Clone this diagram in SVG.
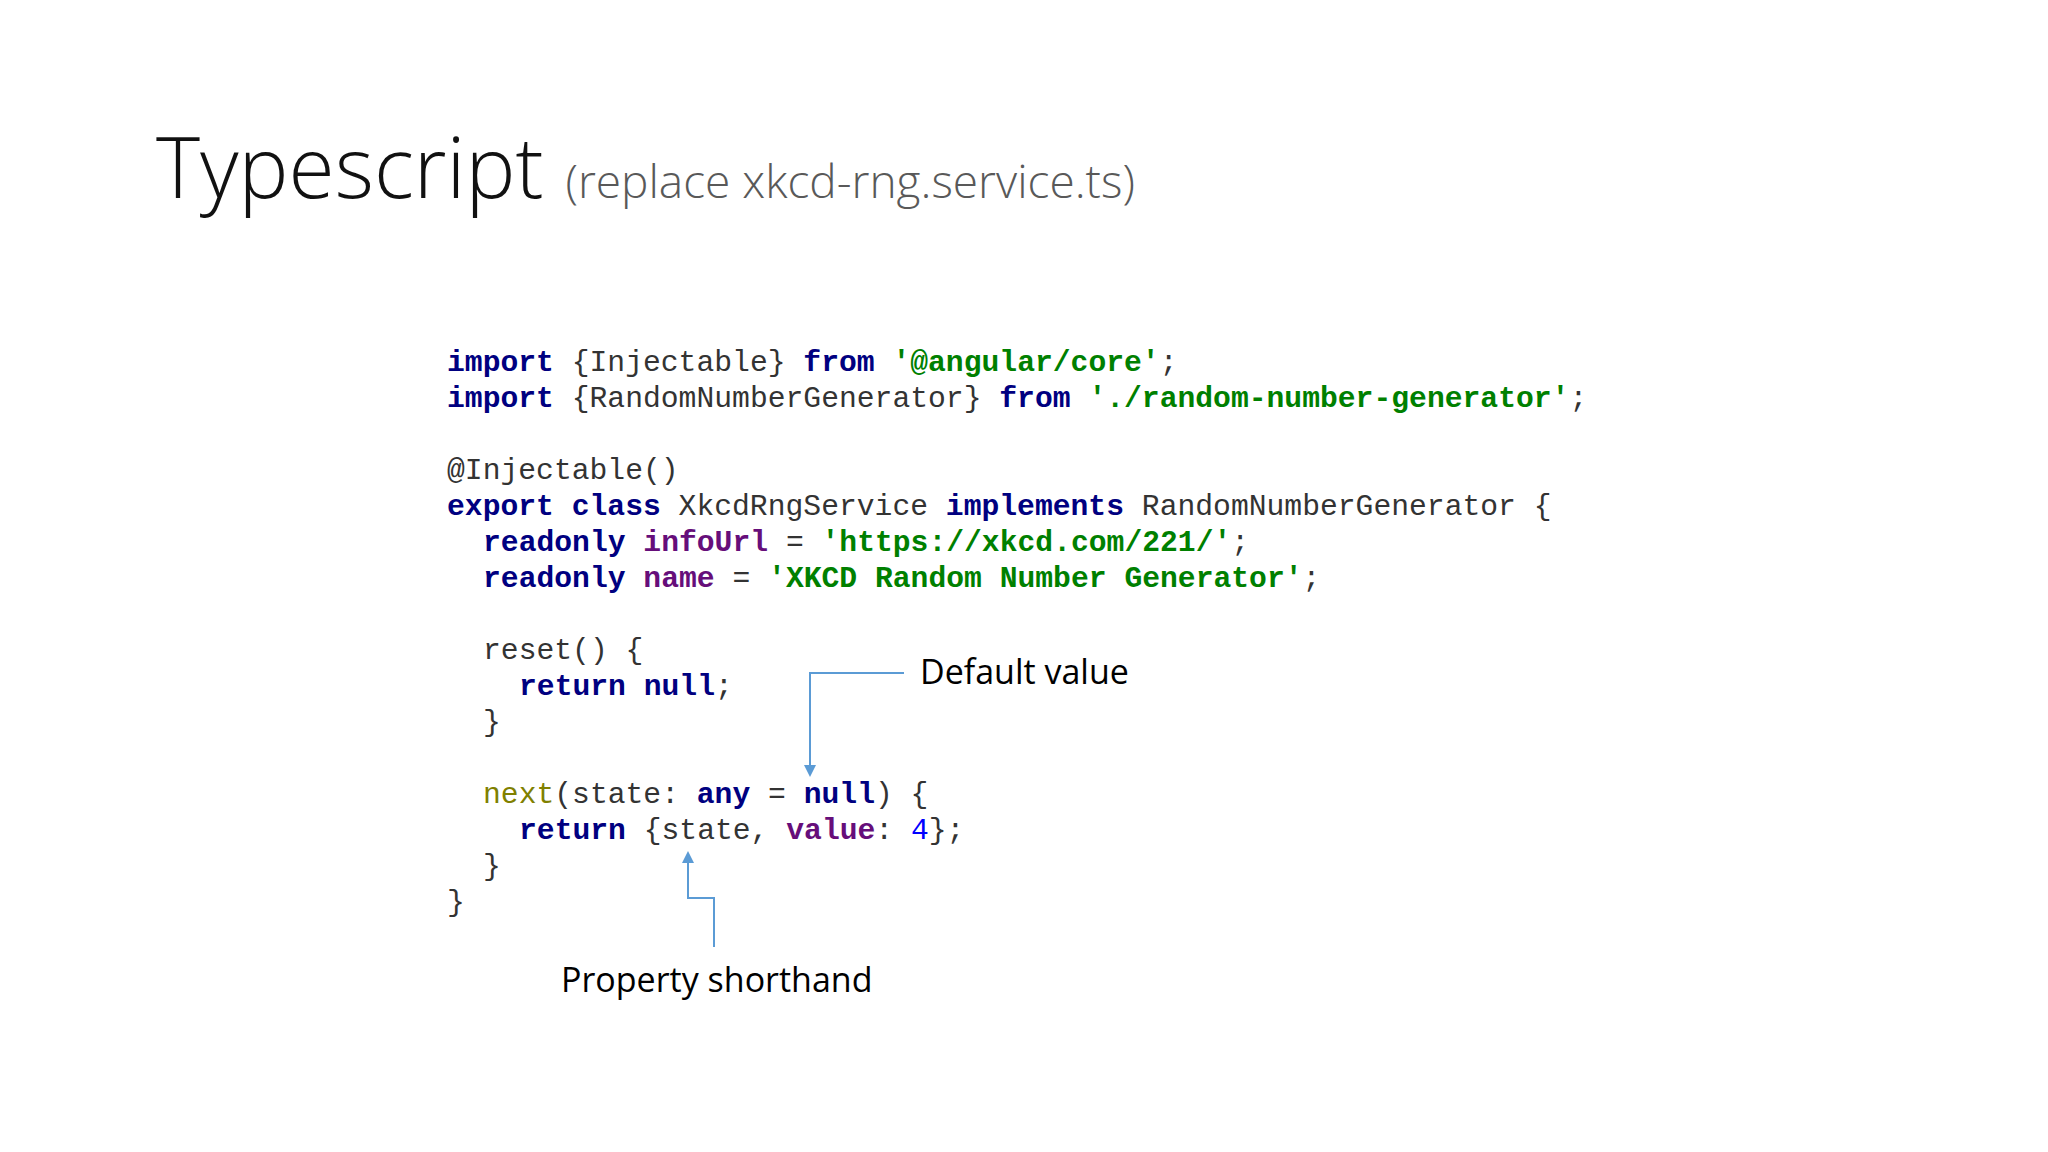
<svg xmlns="http://www.w3.org/2000/svg" width="2048" height="1152" viewBox="0 0 2048 1152">
<style>
.c{font-family:"Liberation Mono",monospace;font-size:29.7px;fill:#333;white-space:pre}
.k{fill:#000080;font-weight:bold}
.s{fill:#008000;font-weight:bold}
.p{fill:#660E7A;font-weight:bold}
.n{fill:#0000FF}
.f{fill:#808000}
.a{font-family:"Open Sans","Liberation Sans",sans-serif;font-size:34px;fill:#000}
.l{fill:none;stroke:#5B9BD5;stroke-width:2}
.h{fill:#5B9BD5}
</style>
<rect width="2048" height="1152" fill="#fff"/>
<g id="title">
<text x="156" y="198" font-family="'Open Sans','Liberation Sans',sans-serif" font-size="84" fill="#111" font-weight="300">Typescript <tspan font-size="46" fill="#595959">(replace xkcd-rng.service.ts)</tspan></text>
</g>
<g id="code" class="c" xml:space="preserve">
<text x="447" y="371"><tspan class="k">import</tspan> {Injectable} <tspan class="k">from</tspan> <tspan class="s">'@angular/core'</tspan>;</text>
<text x="447" y="407"><tspan class="k">import</tspan> {RandomNumberGenerator} <tspan class="k">from</tspan> <tspan class="s">'./random-number-generator'</tspan>;</text>
<text x="447" y="479">@Injectable()</text>
<text x="447" y="515"><tspan class="k">export class</tspan> XkcdRngService <tspan class="k">implements</tspan> RandomNumberGenerator {</text>
<text x="483" y="551"><tspan class="k">readonly</tspan> <tspan class="p">infoUrl</tspan> = <tspan class="s">'https://xkcd.com/221/'</tspan>;</text>
<text x="483" y="587"><tspan class="k">readonly</tspan> <tspan class="p">name</tspan> = <tspan class="s">'XKCD Random Number Generator'</tspan>;</text>
<text x="483" y="659">reset() {</text>
<text x="519" y="695"><tspan class="k">return null</tspan>;</text>
<text x="483" y="731">}</text>
<text x="483" y="803"><tspan class="f">next</tspan>(state: <tspan class="k">any</tspan> = <tspan class="k">null</tspan>) {</text>
<text x="519" y="839"><tspan class="k">return</tspan> {state, <tspan class="p">value</tspan>: <tspan class="n">4</tspan>};</text>
<text x="483" y="875">}</text>
<text x="447" y="911">}</text>
</g>
<g id="connectors">
<path class="l" d="M904,673 H810 V766"/>
<path class="h" d="M804,765 L816,765 L810,777 Z"/>
<path class="l" d="M714,947 V898 H688 V862"/>
<path class="h" d="M682,863 L694,863 L688,851 Z"/>
</g>
<g id="default"><text class="a" x="920" y="684">Default value</text></g>
<g id="shorthand"><text class="a" x="561" y="992">Property shorthand</text></g>
</svg>
